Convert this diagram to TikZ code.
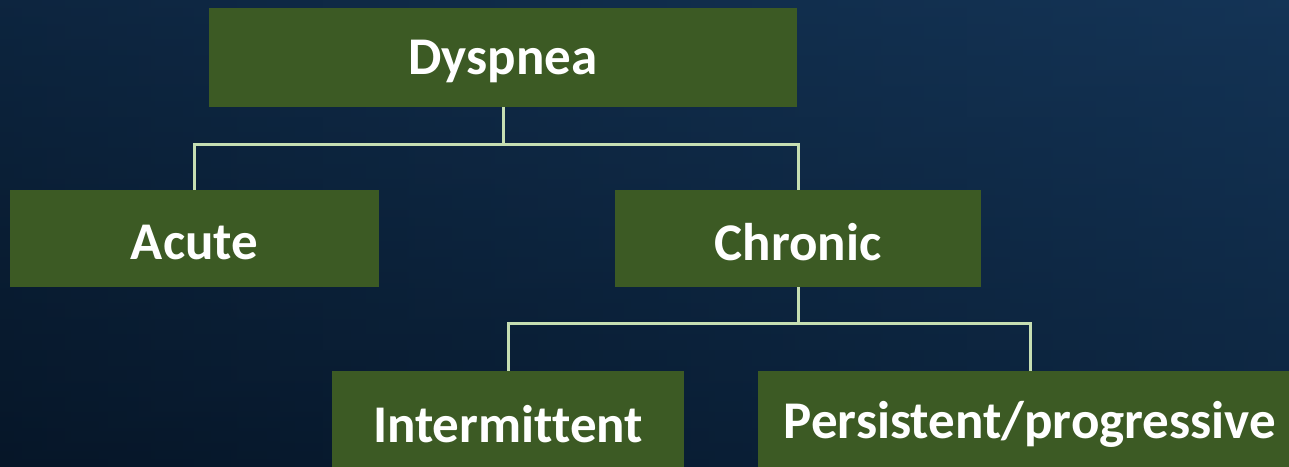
\documentclass[tikz,border=0pt]{standalone}
\usepackage{fontspec}
\setmainfont{Carlito}[Ligatures=NoCommon]
\usepackage{xcolor}
\definecolor{boxgreen}{HTML}{3C5A24}
\definecolor{linkgreen}{HTML}{C6DEB2}
\definecolor{bgdark}{HTML}{061628}
\definecolor{bglight}{HTML}{143456}
\usetikzlibrary{math}

\begin{document}
\begin{tikzpicture}[x=1pt,y=-1pt,
    box/.style={fill=boxgreen, inner sep=0pt, minimum height=97pt, text=white,
      font=\bfseries\fontsize{53}{60}\selectfont},
    lbl/.style={text=white, inner sep=0pt, font=\bfseries\fontsize{53}{60}\selectfont},
    link/.style={draw=linkgreen, line width=3pt}]
      \tikzmath{\bw = 1289; \bh = 466; \busa = 144; \busb = 323;}
      \useasboundingbox (0,0) rectangle (\bw,\bh);
      \clip (0,0) rectangle (\bw,\bh);
      \shade[left color=bgdark, right color=bglight] (0,\bh) rectangle (\bw,0);
      \shade[top color=bglight, bottom color=bgdark, opacity=0.5] (0,0) rectangle (\bw,\bh);
      % boxes
      \node[box, minimum width=588pt, minimum height=99pt] (dys) at (503,57.5) {};
      \node[box, minimum width=369pt] (acute) at (194.5,238.5) {};
      \node[box, minimum width=366pt] (chron) at (798,238.5) {};
      \node[box, minimum width=352pt] (inter) at (508,419.5) {};
      \node[box, minimum width=544pt] (pers) at (1030,419.5) {};
      % labels
      \node[lbl] (dyst) at ([yshift=-4pt]dys.center) {Dyspnea};
      \node[lbl] (acutet) at ([yshift=-4pt]acute.center) {Acute};
      \node[lbl] (chront) at ([yshift=-4pt]chron.center) {Chronic};
      \node[lbl] (intert) at ([yshift=-5pt]inter.center) {Intermittent};
      \node[lbl] (perst) at ([yshift=-5pt]pers.center) {Persistent/progressive};
      % connectors
      \coordinate (busa) at (0,\busa);
      \coordinate (busb) at (0,\busb);
      \draw[link] (dys.south) -- (dys.south |- busa) -| (acute.north);
      \draw[link] (dys.south |- busa) -| (chron.north);
      \draw[link] (chron.south) -- (chron.south |- busb) -| (inter.north);
      \draw[link] (chron.south |- busb) -| (pers.north);
\end{tikzpicture}
\end{document}
